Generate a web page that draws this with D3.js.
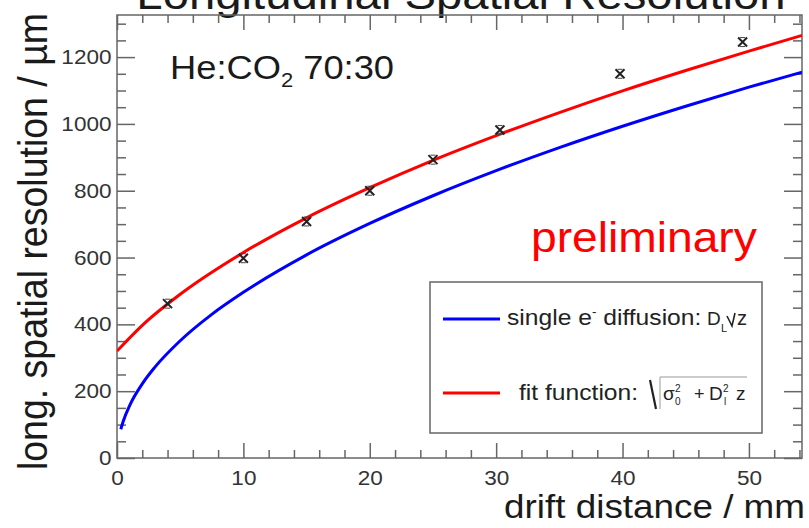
<!DOCTYPE html>
<html><head><meta charset="utf-8">
<script src="https://cdn.jsdelivr.net/npm/d3@7"></script>
<style>
html,body{margin:0;padding:0;background:#fff;}
svg{display:block;font-family:"Liberation Sans",Arial,Helvetica,sans-serif;}
</style></head>
<body>
<svg id="chart" width="809" height="528"></svg>
<script>
// ---- data ----
const dataDrift = [4.0, 10.0, 15.0, 20.0, 25.0, 30.3, 39.8, 49.5];
const dataRes   = [462, 598, 708, 800, 893, 982, 1150, 1245];

// fit function curve
const fitDrift = [0, 2, 5, 10, 15, 20, 25, 30, 35, 40, 45, 50, 54.2];
const fitRes   = [320, 397, 490, 615, 719, 809, 891, 965, 1034, 1099, 1160, 1218, 1265];

// single electron diffusion curve
const diffDrift = [0.3, 0.5, 1, 2, 3, 5, 7.5, 10, 15, 20, 25, 30, 35, 40, 45, 50, 54.2];
const diffRes   = [86, 111, 157, 222, 272, 351, 430, 496, 608, 702, 785, 860, 929, 993, 1053, 1110, 1155];

const xTicks = [0, 10, 20, 30, 40, 50];
const yTicks = [0, 200, 400, 600, 800, 1000, 1200];

const svg = d3.select("#chart");
const FR = {l:117, r:802, t:15, b:458};
const x = d3.scaleLinear().domain([0, 54.2]).range([FR.l, FR.r]);
const y = d3.scaleLinear().domain([0, 1326]).range([FR.b, FR.t]);
const SX = 1.1;
const axisCol = "#666", labCol = "#333";

// Title (cut off at top in the reference)
svg.append("text").attr("transform", `translate(461,9) scale(${SX},1)`)
  .attr("text-anchor","middle").attr("font-size",43).attr("fill","#1a1a1a")
  .text("Longitudinal Spatial Resolution");

// frame
svg.append("rect").attr("x",FR.l).attr("y",FR.t).attr("width",FR.r-FR.l).attr("height",FR.b-FR.t)
  .attr("fill","none").attr("stroke",axisCol).attr("stroke-width",1.5);

function styleAxis(g){
  g.select(".domain").remove();
  g.selectAll(".tick line").attr("stroke",axisCol).attr("stroke-width",1.5);
}
const xMinor = d3.range(0, 54.3, 2).filter(v => v % 10 !== 0);
const yMinor = d3.range(0, 1326, 50).filter(v => v % 200 !== 0);

// bottom axis
const gb = svg.append("g").attr("transform",`translate(0,${FR.b})`)
  .call(d3.axisBottom(x).tickValues(xTicks).tickSize(-15).tickPadding(12).tickFormat(d3.format("d")));
styleAxis(gb);
gb.selectAll(".tick text").attr("font-size",20.5).attr("fill",labCol).attr("transform",`scale(${SX},1)`);
svg.append("g").attr("transform",`translate(0,${FR.b})`)
  .call(d3.axisBottom(x).tickValues(xMinor).tickSize(-8).tickFormat("")).call(styleAxis);
// top axis
svg.append("g").attr("transform",`translate(0,${FR.t})`)
  .call(d3.axisTop(x).tickValues(xTicks).tickSize(-15).tickFormat("")).call(styleAxis);
svg.append("g").attr("transform",`translate(0,${FR.t})`)
  .call(d3.axisTop(x).tickValues(xMinor).tickSize(-8).tickFormat("")).call(styleAxis);
// left axis
const gl = svg.append("g").attr("transform",`translate(${FR.l},0)`)
  .call(d3.axisLeft(y).tickValues(yTicks).tickSize(-18).tickPadding(5).tickFormat(d3.format("d")));
styleAxis(gl);
gl.selectAll(".tick text").attr("font-size",20.5).attr("fill",labCol)
  .attr("x",0).attr("transform",`translate(-5.5,0) scale(${SX},1)`);
svg.append("g").attr("transform",`translate(${FR.l},0)`)
  .call(d3.axisLeft(y).tickValues(yMinor).tickSize(-9).tickFormat("")).call(styleAxis);
// right axis
svg.append("g").attr("transform",`translate(${FR.r},0)`)
  .call(d3.axisRight(y).tickValues(yTicks).tickSize(-18).tickFormat("")).call(styleAxis);
svg.append("g").attr("transform",`translate(${FR.r},0)`)
  .call(d3.axisRight(y).tickValues(yMinor).tickSize(-9).tickFormat("")).call(styleAxis);

// axis titles
svg.append("text").attr("transform",`translate(805,518) scale(${SX},1)`)
  .attr("text-anchor","end").attr("font-size",33.5).attr("fill","#1a1a1a")
  .text("drift distance / mm");
svg.append("text").attr("transform",`translate(47,13) scale(${SX},1) rotate(-90)`)
  .attr("text-anchor","end").attr("font-size",37.5).attr("fill","#1a1a1a")
  .text("long. spatial resolution / µm");

// clip
svg.append("clipPath").attr("id","clip").append("rect")
  .attr("x",FR.l).attr("y",FR.t).attr("width",FR.r-FR.l).attr("height",FR.b-FR.t);

const line = d3.line().x(d=>x(d[0])).y(d=>y(d[1])).curve(d3.curveMonotoneX);
const plot = svg.append("g").attr("clip-path","url(#clip)");
plot.append("path").datum(d3.zip(diffDrift, diffRes)).attr("d",line)
  .attr("fill","none").attr("stroke","#0000ff").attr("stroke-width",3);
plot.append("path").datum(d3.zip(fitDrift, fitRes)).attr("d",line)
  .attr("fill","none").attr("stroke","#ff0000").attr("stroke-width",3);

// data markers
const mk = plot.selectAll("g.pt").data(d3.zip(dataDrift, dataRes)).join("g")
  .attr("class","pt").attr("transform",d=>`translate(${x(d[0])},${y(d[1])})`);
mk.append("path").attr("d","M-4.5,-4.5L4.5,4.5M-4.5,4.5L4.5,-4.5")
  .attr("stroke","#222").attr("stroke-width",2).attr("fill","none");
mk.append("path").attr("d","M-2.5,-4.5H2.5M-2.5,4.5H2.5")
  .attr("stroke","#444").attr("stroke-width",1).attr("fill","none");

// He:CO2 label
const he = svg.append("text").attr("transform",`translate(170,79) scale(${SX},1)`)
  .attr("font-size",33).attr("fill","#1a1a1a");
he.append("tspan").text("He:CO");
he.append("tspan").attr("font-size",20).attr("dy",8).text("2");
he.append("tspan").attr("dy",-8).text(" 70:30");

// preliminary
svg.append("text").attr("transform",`translate(531,252) scale(${SX},1)`)
  .attr("font-size",42).attr("fill","#ff0000").text("preliminary");

// legend
svg.append("rect").attr("x",430).attr("y",282).attr("width",332).attr("height",151)
  .attr("fill","#fff").attr("stroke",axisCol).attr("stroke-width",1.5);
svg.append("line").attr("x1",443).attr("x2",500).attr("y1",319).attr("y2",319)
  .attr("stroke","#0000ff").attr("stroke-width",3);
svg.append("line").attr("x1",443).attr("x2",500).attr("y1",393).attr("y2",393)
  .attr("stroke","#ff0000").attr("stroke-width",3);

const LF = 22, LS = 1.12, lcol = "#222";
const t1 = svg.append("text").attr("transform",`translate(507,325) scale(${LS},1)`)
  .attr("font-size",LF).attr("fill",lcol);
t1.append("tspan").text("single e");
t1.append("tspan").attr("font-size",12).attr("dy",-9).text("-");
t1.append("tspan").attr("dy",9).text(" diffusion:");
svg.append("text").attr("x",707).attr("y",325).attr("font-size",19).attr("fill",lcol).text("D");
svg.append("text").attr("x",721).attr("y",332).attr("font-size",11).attr("fill",lcol).text("L");
svg.append("path").attr("d","M727,316 L732,326 L735,313")
  .attr("fill","none").attr("stroke",lcol).attr("stroke-width",1.6);
svg.append("text").attr("x",737).attr("y",325).attr("font-size",20).attr("fill",lcol).text("z");

svg.append("text").attr("transform",`translate(519,400) scale(${LS},1)`)
  .attr("font-size",LF).attr("fill",lcol).text("fit function:");
svg.append("path").attr("d","M650,380 L656,409")
  .attr("fill","none").attr("stroke",lcol).attr("stroke-width",2.2);
svg.append("path").attr("d","M660,409 L660,377 L747,377")
  .attr("fill","none").attr("stroke","#999").attr("stroke-width",1);
svg.append("text").attr("x",663).attr("y",400).attr("font-size",19).attr("fill",lcol).text("σ");
svg.append("text").attr("x",675).attr("y",392).attr("font-size",10).attr("fill",lcol).text("2");
svg.append("text").attr("x",675).attr("y",405).attr("font-size",10).attr("fill",lcol).text("0");
svg.append("text").attr("x",694).attr("y",400).attr("font-size",18).attr("fill",lcol).text("+");
svg.append("text").attr("x",709).attr("y",400).attr("font-size",19).attr("fill",lcol).text("D");
svg.append("text").attr("x",723).attr("y",392).attr("font-size",10).attr("fill",lcol).text("2");
svg.append("text").attr("x",724).attr("y",405).attr("font-size",10).attr("fill",lcol).text("l");
svg.append("text").attr("x",736).attr("y",400).attr("font-size",19).attr("fill",lcol).text("z");
</script>
</body></html>
